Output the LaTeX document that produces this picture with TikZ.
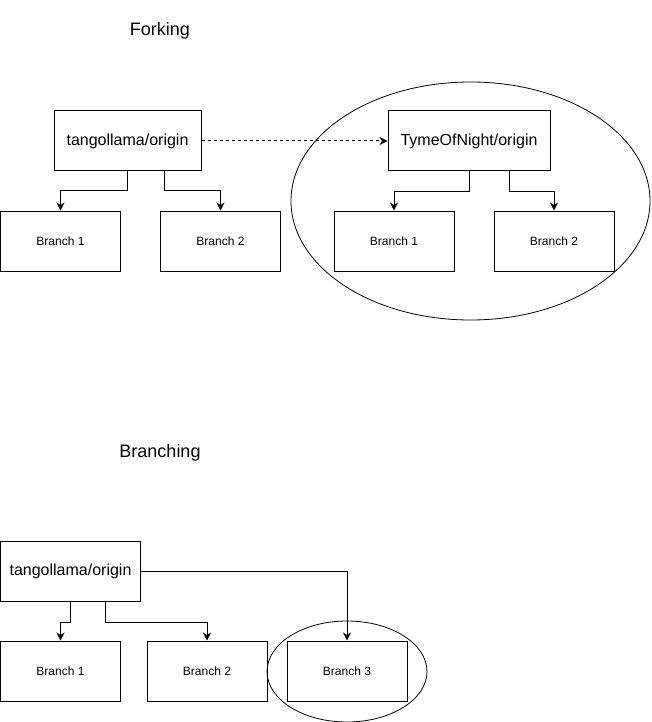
\documentclass[tikz,border=0pt]{standalone}
\usepackage{fontspec}
\setmainfont{Liberation Sans}
\usetikzlibrary{arrows.meta,shapes.geometric,calc}

\begin{document}
\begin{tikzpicture}[x=1pt,y=-1pt,line width=1pt]
  \tikzset{
  repo node/.style={draw,rectangle,minimum height=60,inner sep=0,font=\fontsize{16}{19}\selectfont},
  branch node/.style={draw,rectangle,minimum width=120,minimum height=60,inner sep=0,font=\fontsize{12}{14}\selectfont},
  title node/.style={font=\fontsize{18}{22}\selectfont},
  ring node/.style={draw,ellipse,inner sep=0,line width=0.8pt},
  git edge/.style={-{Stealth[length=8pt,width=8pt,inset=2.5pt]}}
  }
  \useasboundingbox (0,0) rectangle (651,722);
  % forking
  \node[title node] (T1) at (160,31) {Forking};
  \node[repo node,minimum width=147] (O1) at (127.5,141) {tangollama/origin};
  \node[branch node] (O1B1) at (60.5,241) {Branch 1};
  \node[branch node] (O1B2) at (220.5,241) {Branch 2};
  \node[ring node,minimum width=359,minimum height=238] (R1) at (470.5,201) {};
  \node[repo node,minimum width=162] (F1) at (469,141) {TymeOfNight/origin};
  \node[branch node] (F1B1) at (394,241) {Branch 1};
  \node[branch node] (F1B2) at (554,241) {Branch 2};

  \draw[git edge] (O1.south) -- ++(0,19) -| (O1B1.north);
  \draw[git edge] ($(O1.south)!.5!(O1.south east)$) -- ++(0,19) -| (O1B2.north);
  \draw[git edge,dash pattern=on 3pt off 3pt] (O1.east) -- (F1.west);
  \draw[git edge] (F1.south) -- ++(0,20) -| (F1B1.north);
  \draw[git edge] ($(F1.south)!.5!(F1.south east)$) -- ++(0,20) -| (F1B2.north);

  % branching
  \node[title node] (T2) at (160,453) {Branching};
  \node[repo node,minimum width=140] (O2) at (70.5,571.5) {tangollama/origin};
  \node[branch node] (O2B1) at (60.5,671) {Branch 1};
  \node[branch node] (O2B2) at (207,671) {Branch 2};
  \node[ring node,minimum width=160,minimum height=101] (R2) at (347,671.5) {};
  \node[branch node] (O2B3) at (347,671) {Branch 3};

  \draw[git edge] (O2.south) -- ++(0,20) -| (O2B1.north);
  \draw[git edge] ($(O2.south)!.5!(O2.south east)$) -- ++(0,20) -| (O2B2.north);
  \draw[git edge] (O2.east) -| (O2B3.north);
\end{tikzpicture}
\end{document}
